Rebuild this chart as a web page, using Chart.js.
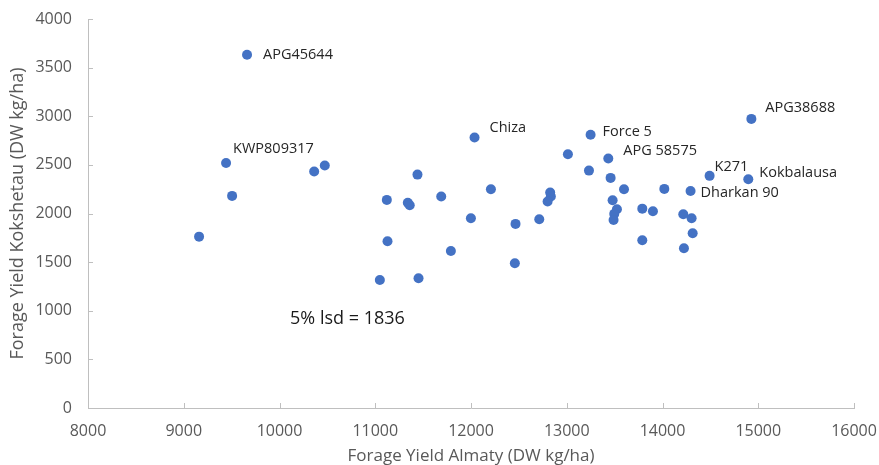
<!DOCTYPE html>
<html>
<head>
<meta charset="utf-8">
<script src="https://cdn.jsdelivr.net/npm/chart.js@4.4.1/dist/chart.umd.min.js"></script>
<style>
  html, body { margin: 0; padding: 0; background: #fff; }
  #wrap { width: 879px; height: 465px; position: relative; }
</style>
</head>
<body>
<div id="wrap"><canvas id="chart"></canvas></div>
<script>
// forage yield, DW kg/ha
const almaty = [9661, 9442, 9505, 9160, 10362, 10473, 12037, 13012, 11441, 11121,
  11340, 11360, 11689, 12208, 12827, 12834, 12800, 11999, 12465, 12713,
  11128, 11790, 12458, 11048, 11452, 13249, 13434, 13232, 13458, 13598,
  14019, 14293, 14492, 14896, 14928, 13479, 13524, 13496, 13489, 13789,
  13900, 14217, 14304, 14315, 13789, 14224];
const kokshetau = [3632, 2520, 2181, 1762, 2431, 2493, 2781, 2610, 2400, 2140,
  2110, 2085, 2174, 2250, 2215, 2175, 2123, 1952, 1893, 1941,
  1715, 1615, 1489, 1317, 1334, 2809, 2565, 2441, 2366, 2250,
  2253, 2232, 2387, 2353, 2973, 2137, 2044, 1996, 1934, 2050,
  2023, 1993, 1952, 1797, 1725, 1643];
const names = ['APG45644', 'KWP809317', '', '', '', '', 'Chiza', '', '', '',
  '', '', '', '', '', '', '', '', '', '',
  '', '', '', '', '', 'Force 5', 'APG 58575', '', '', '',
  '', 'Dharkan 90', 'K271', 'Kokbalausa', 'APG38688', '', '', '', '', '',
  '', '', '', '', '', ''];
const xTicks = [8000, 9000, 10000, 11000, 12000, 13000, 14000, 15000, 16000];
const yTicks = [0, 500, 1000, 1500, 2000, 2500, 3000, 3500, 4000];
const lsdText = '5% lsd = 1836';
const lsdAt = [10110, 915];

// label offsets from the marker, in px
const labelOffset = {
  'APG45644': [16, 0], 'KWP809317': [7, -14], 'Chiza': [15, -10],
  'Force 5': [12, -3], 'APG 58575': [15, -8], 'APG38688': [14, -11],
  'K271': [5, -9], 'Kokbalausa': [11, -6], 'Dharkan 90': [10, 2]
};

const axisGray = '#bfbfbf';
const textGray = '#595959';
const font = "'Open Sans', sans-serif";

function noPad(s) {
  s.paddingLeft = 0; s.paddingRight = 0; s.paddingTop = 0; s.paddingBottom = 0;
}

const extras = {
  id: 'extras',
  afterDatasetsDraw(chart) {
    const ctx = chart.ctx;
    const xs = chart.scales.x, ys = chart.scales.y;
    ctx.save();
    // inside tick marks
    ctx.strokeStyle = axisGray;
    ctx.lineWidth = 1;
    ctx.beginPath();
    xTicks.forEach(v => {
      const px = Math.round(xs.getPixelForValue(v)) + 0.5;
      ctx.moveTo(px, ys.bottom);
      ctx.lineTo(px, ys.bottom - 5);
    });
    yTicks.forEach(v => {
      const py = Math.round(ys.getPixelForValue(v)) + 0.5;
      ctx.moveTo(xs.left, py);
      ctx.lineTo(xs.left + 5, py);
    });
    ctx.stroke();
    // point labels
    const meta = chart.getDatasetMeta(0);
    ctx.fillStyle = '#262626';
    ctx.font = "14.5px " + font;
    ctx.textAlign = 'left';
    ctx.textBaseline = 'middle';
    names.forEach((n, i) => {
      if (!n) return;
      const el = meta.data[i];
      const off = labelOffset[n] || [10, 0];
      ctx.fillText(n, el.x + off[0], el.y + off[1]);
    });
    // lsd note
    ctx.fillStyle = '#1a1a1a';
    ctx.font = "18px " + font;
    ctx.fillText(lsdText, xs.getPixelForValue(lsdAt[0]), ys.getPixelForValue(lsdAt[1]));
    ctx.restore();
  }
};

new Chart(document.getElementById('chart'), {
  type: 'scatter',
  data: {
    datasets: [{
      label: 'Forage yield',
      data: almaty.map((x, i) => ({ x: x, y: kokshetau[i] })),
      backgroundColor: '#4472C4',
      borderColor: '#4472C4',
      borderWidth: 0,
      pointRadius: 5,
      pointHoverRadius: 5
    }]
  },
  options: {
    responsive: true,
    maintainAspectRatio: false,
    animation: false,
    layout: { padding: { top: 19, right: 25, left: 0, bottom: 0 } },
    plugins: { legend: { display: false }, tooltip: { enabled: false } },
    scales: {
      x: {
        type: 'linear',
        min: 8000, max: 16000,
        afterFit: s => { s.height = 57; noPad(s); },
        afterBuildTicks: s => { s.ticks = xTicks.map(v => ({ value: v })); },
        grid: { display: false, drawTicks: false },
        border: { display: true, color: axisGray, width: 1 },
        ticks: { color: textGray, font: { family: font, size: 16 }, padding: 14, callback: v => String(v) },
        title: { display: true, text: 'Forage Yield Almaty (DW kg/ha)', color: textGray,
          font: { family: font, size: 17, lineHeight: 1 }, padding: { top: -1, bottom: 0 } }
      },
      y: {
        min: 0, max: 4000,
        afterFit: s => { s.width = 88; noPad(s); },
        afterBuildTicks: s => { s.ticks = yTicks.map(v => ({ value: v })); },
        grid: { display: false, drawTicks: false },
        border: { display: true, color: axisGray, width: 1 },
        ticks: { color: textGray, font: { family: font, size: 16 }, padding: 16, callback: v => String(v) },
        title: { display: true, text: 'Forage Yield Kokshetau (DW kg/ha)', color: textGray,
          font: { family: font, size: 18, lineHeight: 1.2 }, padding: { top: 7, bottom: 0 } }
      }
    }
  },
  plugins: [extras]
});
</script>
</body>
</html>
